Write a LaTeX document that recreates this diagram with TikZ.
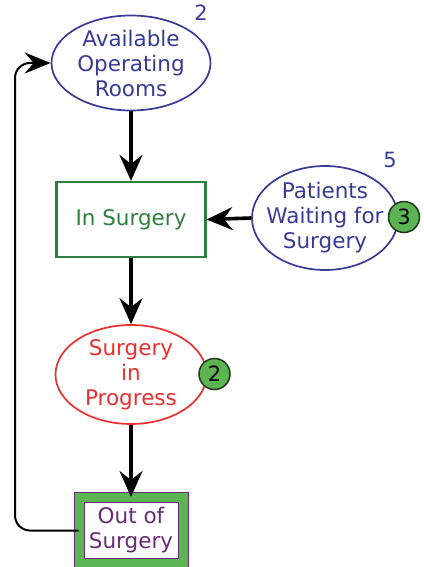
\documentclass[tikz,border=0pt]{standalone}
\usepackage{fontspec}
\setmainfont{DejaVu Sans}
\usetikzlibrary{shapes.geometric,arrows.meta}
\definecolor{placeblue}{HTML}{3A3A96}
\definecolor{boxgreen}{HTML}{2E8040}
\definecolor{progred}{HTML}{E8302E}
\definecolor{outpurple}{HTML}{6A2A78}
\definecolor{tokengreen}{HTML}{5CB452}
\definecolor{tokenedge}{HTML}{1E3A1E}
\tikzset{
  x=1pt, y=-1pt,
  every node/.style={font=\fontsize{21.5}{25}\selectfont, align=center, inner sep=0pt},
  place/.style={ellipse, draw=placeblue, line width=1.7pt},
  placetext/.style={text=placeblue},
  stagebox/.style={rectangle, draw=boxgreen, text=boxgreen, line width=2.2pt},
  token/.style={circle, draw=tokenedge, fill=tokengreen, line width=1.5pt,
    minimum size=31pt, text=black, font=\fontsize{21}{22}\selectfont},
  count/.style={text=placeblue, font=\fontsize{21}{22}\selectfont},
  flow/.style={line width=3.6pt, -{Stealth[length=26pt,width=23pt,inset=9pt]}},
  returnflow/.style={line width=2pt, rounded corners=15pt,
    -{Stealth[length=26pt,width=21pt,inset=9pt]}},
}
\begin{document}
\begin{tikzpicture}
\useasboundingbox (0,0) rectangle (423,567);

% places (outline and label kept apart so the label does not widen the ellipse)
\node[place, minimum width=159pt, minimum height=95pt] (avail) at (131,63) {};
\node[placetext] (availtext) at (avail.center) {Available\\Operating\\Rooms};
\node[place, minimum width=146pt, minimum height=104pt] (wait) at (325,218) {};
\node[placetext] (waittext) at (wait.center) {Patients\\Waiting for\\Surgery};
\node[place, draw=progred, minimum width=151pt, minimum height=99pt]
  (prog) at (131,374.5) {};
\node[text=progred] (progtext) at (prog.center) {Surgery\\in\\Progress};

% stages
\node[stagebox, minimum width=149pt, minimum height=75pt] (insurg) at (131,219.5)
  {In Surgery};
\node[rectangle, draw=outpurple, line width=1pt, double=tokengreen,
  double distance=9pt, fill=white, text=outpurple,
  minimum width=104pt, minimum height=66pt] (out) at (131,530.5) {Out of\\Surgery};

% counts and tokens
\node[count] (c1) at (201,13) {2};
\node[count] (c2) at (390,160) {5};
\node[token] (t1) at (404,217) {3};
\node[token] (t2) at (214.5,374) {2};

% flows
\draw[flow] (avail.south) -- (insurg.north);
\draw[flow] (wait.west) -- (insurg.east);
\draw[flow] (insurg.south) -- (prog.north);
\draw[flow] (prog.south) -- (out.north);
\coordinate (bend) at (15,63);
\draw[returnflow] (out.west) -| (bend) -- (avail.west);
\end{tikzpicture}
\end{document}
